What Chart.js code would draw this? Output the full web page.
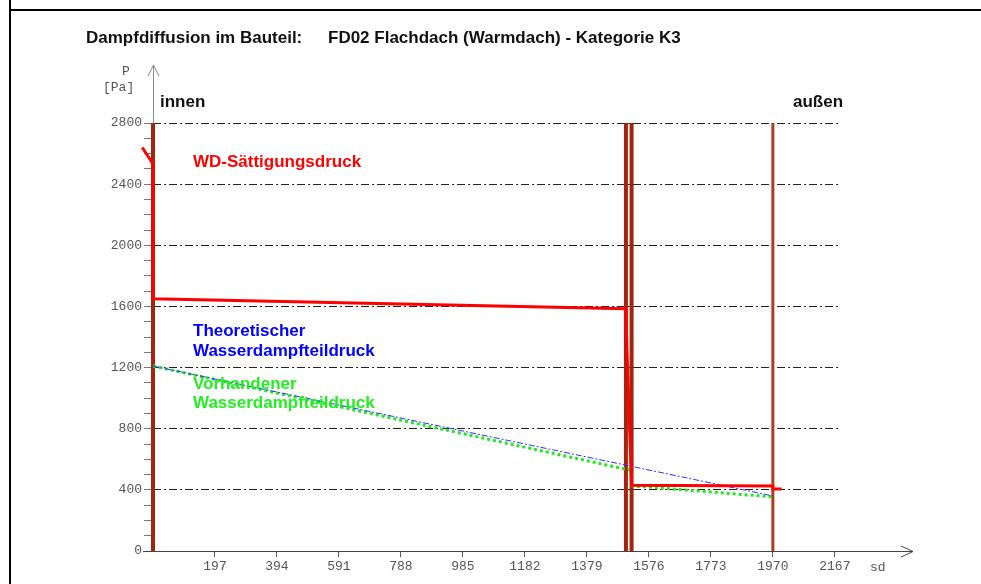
<!DOCTYPE html>
<html lang="de">
<head>
<meta charset="UTF-8">
<title>Dampfdiffusion FD02</title>
<script src="https://cdn.jsdelivr.net/npm/chart.js@4"></script>
<style>
  body { margin: 0; background: #fff; }
</style>
</head>
<body>
<canvas id="diffChart" width="981" height="584"></canvas>
<script>
// Schichtgrenzen (sd in m)
const schichtGrenzen = [0, 1503, 1521, 1970];

// Wasserdampf-Sättigungsdruck
const saettX = [-34, -4, 0, 0, 1503, 1506, 1512, 1521, 1970, 1970, 1998];
const saettY = [2640, 2545, 2530, 1650, 1585, 1330, 980, 430, 425, 405, 405];

// theoretischer Wasserdampfteildruck
const theoX = [0, 1970];
const theoY = [1210, 360];

// vorhandener Wasserdampfteildruck
const vorhX = [0, 1503, 1519, 1521, 1970];
const vorhY = [1210, 535, 528, 427, 354];

// Achsenbeschriftung
const xTicks = [197, 394, 591, 788, 985, 1182, 1379, 1576, 1773, 1970, 2167];
const yTicks = [0, 400, 800, 1200, 1600, 2000, 2400, 2800];

const zuPunkte = (xs, ys) => xs.map((x, i) => ({ x: x, y: ys[i] }));

const braun = schichtGrenzen.map((g, i) => ({
    data: [{ x: g, y: 0 }, { x: g, y: 2800 }],
    borderColor: i === schichtGrenzen.length - 1 ? '#b23a1e' : '#a3250f',
    borderWidth: i === schichtGrenzen.length - 1 ? 3 : 4,
    pointRadius: 0,
    clip: false
}));

const monoFont = { family: '"Liberation Mono", "DejaVu Sans Mono", monospace', size: 13 };

// Achsen, Pfeile, Rahmen und Texte
const deko = {
    id: 'deko',
    beforeDatasetsDraw(chart) {
        const c = chart.ctx;
        const x0 = chart.scales.x.getPixelForValue(0);
        const y0 = chart.scales.y.getPixelForValue(0);
        c.save();
        c.lineWidth = 1;
        // y-Achse
        c.strokeStyle = '#8a8a8a';
        c.beginPath();
        c.moveTo(x0 + 0.5, y0);
        c.lineTo(x0 + 0.5, 65);
        c.moveTo(x0 - 5, 76);
        c.lineTo(x0 + 0.5, 65);
        c.lineTo(x0 + 6, 76);
        c.stroke();
        // x-Achse
        c.strokeStyle = '#444';
        c.beginPath();
        c.moveTo(x0 - 10, y0 + 0.5);
        c.lineTo(913, y0 + 0.5);
        c.moveTo(901, y0 - 5);
        c.lineTo(913, y0 + 0.5);
        c.lineTo(901, y0 + 6);
        c.stroke();
        c.restore();
    },
    afterDraw(chart) {
        const c = chart.ctx;
        c.save();
        // Rahmen
        c.fillStyle = '#000';
        c.fillRect(9, 0, 2, 584);
        c.fillRect(9, 9, 972, 2);

        c.textBaseline = 'middle';
        c.textAlign = 'left';
        c.font = '700 17px "Liberation Sans", Arial, sans-serif';
        c.fillStyle = '#111';
        c.fillText('Dampfdiffusion im Bauteil:', 86, 38);
        c.fillText('FD02 Flachdach (Warmdach) - Kategorie K3', 328, 38);
        c.fillText('innen', 160, 102);
        c.fillText('außen', 793, 102);

        c.fillStyle = '#ff0000';
        c.fillText('WD-Sättigungsdruck', 193, 162);
        c.fillStyle = '#0000ff';
        c.fillText('Theoretischer', 193, 331);
        c.fillText('Wasserdampfteildruck', 193, 351);
        c.fillStyle = '#22ee22';
        c.fillText('Vorhandener', 193, 384);
        c.fillText('Wasserdampfteildruck', 193, 403);

        c.font = '13px "Liberation Mono", monospace';
        c.fillStyle = '#555';
        c.fillText('P', 122, 72);
        c.fillText('[Pa]', 103, 88);
        c.fillText('sd', 870, 568);
        c.restore();
    }
};

new Chart(document.getElementById('diffChart'), {
    type: 'line',
    data: {
        datasets: [
            {
                label: 'WD-Sättigungsdruck',
                data: zuPunkte(saettX, saettY),
                borderColor: '#ff0000',
                borderWidth: 3,
                pointRadius: 0,
                clip: false
            },
            {
                label: 'Theoretischer Wasserdampfteildruck',
                data: zuPunkte(theoX, theoY),
                borderColor: '#3030ff',
                borderWidth: 1,
                borderDash: [6, 2, 2, 2],
                pointRadius: 0,
                clip: false
            },
            {
                label: 'Vorhandener Wasserdampfteildruck',
                data: zuPunkte(vorhX, vorhY),
                borderColor: '#22e622',
                borderWidth: 3,
                borderDash: [3, 3],
                pointRadius: 0,
                clip: false
            },
            ...braun
        ]
    },
    options: {
        responsive: false,
        animation: false,
        devicePixelRatio: 1,
        layout: { padding: { left: 0, top: 123, right: 143, bottom: 0 } },
        plugins: { legend: { display: false }, tooltip: { enabled: false } },
        elements: { line: { tension: 0 } },
        scales: {
            x: {
                type: 'linear',
                bounds: 'data',
                // Bereich hier setzen, damit Punkte links von 0 nicht weggeschnitten werden
                afterDataLimits: (s) => { s.min = 0; s.max = 2177; },
                afterFit: (s) => { s.height = 33; },
                afterBuildTicks: (s) => { s.ticks = xTicks.map(v => ({ value: v })); },
                grid: { drawOnChartArea: false, tickLength: 6, tickColor: '#555' },
                border: { display: false },
                ticks: {
                    font: monoFont,
                    color: '#555',
                    padding: 2,
                    maxRotation: 0,
                    autoSkip: false,
                    callback: (v) => String(v)
                }
            },
            y: {
                type: 'linear',
                min: 0,
                max: 2800,
                afterFit: (s) => { s.width = 153; },
                afterBuildTicks: (s) => {
                    const t = [];
                    for (let v = 0; v <= 2800; v += 100) t.push({ value: v });
                    s.ticks = t;
                },
                grid: {
                    color: (ctx) => (ctx.tick && ctx.tick.value > 0 && yTicks.includes(ctx.tick.value)) ? '#222' : 'rgba(0,0,0,0)',
                    tickColor: '#777',
                    tickLength: 9
                },
                border: { display: false, dash: [8, 3, 2, 3] },
                ticks: {
                    font: monoFont,
                    color: '#555',
                    padding: 2,
                    autoSkip: false,
                    callback: (v) => yTicks.includes(v) ? String(v) : ''
                }
            }
        }
    },
    plugins: [deko]
});
</script>
</body>
</html>
